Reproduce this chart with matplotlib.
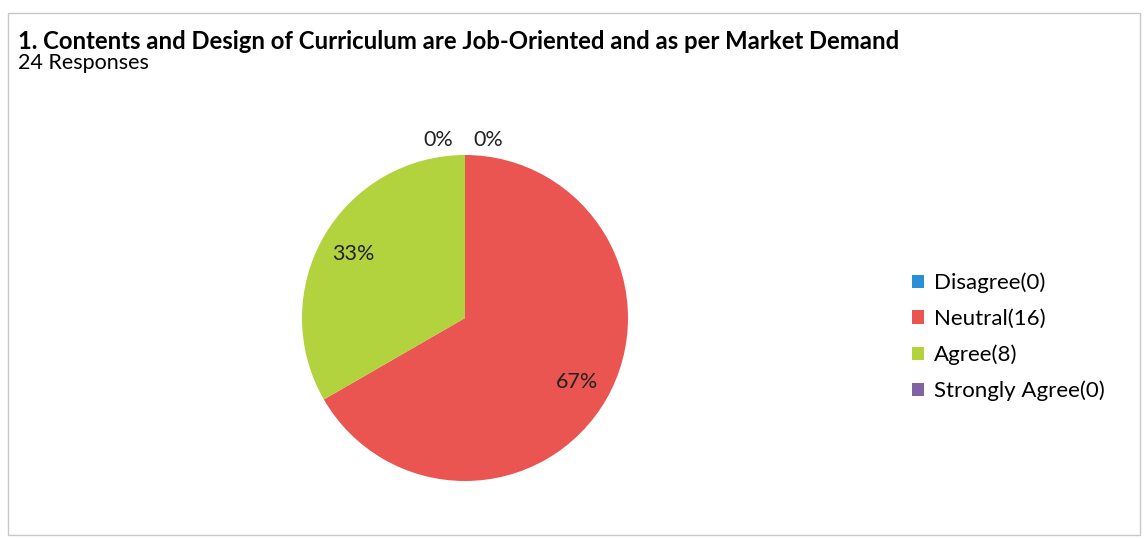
import matplotlib
matplotlib.use("Agg")
import matplotlib.pyplot as plt
from matplotlib.patches import Rectangle, Patch

categories = ["Disagree", "Neutral", "Agree", "Strongly Agree"]
counts = [0, 16, 8, 0]
colors = ["#2a8fd6", "#ea5552", "#b2d23e", "#8064a2"]
title = "1. Contents and Design of Curriculum are Job-Oriented and as per Market Demand"
subtitle = "24 Responses"

plt.rcParams['font.family'] = ['Lato', 'DejaVu Sans']

W, H = 1148, 539
fig = plt.figure(figsize=(W / 100, H / 100), dpi=100)
fig.patch.set_facecolor("white")

# frame
fig.add_artist(Rectangle((8 / W, 4 / H), 1132 / W, 522 / H, transform=fig.transFigure,
                         fill=False, edgecolor="#c8c8c8", linewidth=1.0))

fig.text(18 / W, 1 - 49 / H, title, fontsize=17.2, fontweight="bold", va="baseline", ha="left")
fig.text(18 / W, 1 - 69 / H, subtitle, fontsize=15.5, va="baseline", ha="left")

cx, cy, r = 465, 318, 163
ax = fig.add_axes([(cx - r) / W, (H - cy - r) / H, 2 * r / W, 2 * r / H])

def fmt(p):
    return f"{p:.0f}%"

wedges, texts, autotexts = ax.pie(counts, colors=colors, startangle=90, counterclock=False,
                                  autopct=fmt, pctdistance=0.79, radius=1.0,
                                  textprops=dict(fontsize=15.5, color="#222222"),
                                  wedgeprops=dict(linewidth=0))
ax.set_xlim(-1, 1)
ax.set_ylim(-1, 1)
ax.set_aspect("auto")
ax.axis("off")

# move the zero-value labels outside the top of the pie, side by side
zero_idx = [i for i, c in enumerate(counts) if c == 0]
offsets = [-0.165, 0.14]
for k, i in enumerate(zero_idx):
    autotexts[i].set_position((offsets[k % 2], 1.09))
    autotexts[i].set_ha("center")
    autotexts[i].set_va("center")
for t in autotexts:
    t.set_clip_on(False)

handles = [Patch(facecolor=c, edgecolor="none") for c in colors]
labels = [f"{n}({v})" for n, v in zip(categories, counts)]
fig.legend(handles, labels, loc="center left", bbox_to_anchor=(892 / W, 1 - 337 / H),
           frameon=False, fontsize=16, handlelength=0.55, handleheight=0.55,
           handletextpad=0.45, labelspacing=0.7)

fig.savefig("out.png", dpi=100)
